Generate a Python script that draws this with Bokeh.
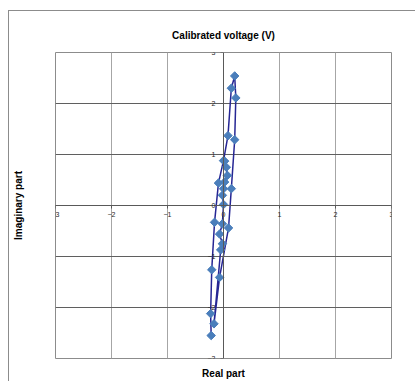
from bokeh.plotting import figure
from bokeh.models import LinearAxis, FixedTicker, Range1d
from bokeh.embed import file_html
from bokeh.resources import INLINE

# Data (Real part, Imaginary part), in drawing order
real_part = [-0.22, -0.23, -0.21, -0.16, -0.09, 0.00, 0.08, 0.14, 0.20,
             0.22, 0.20, 0.14, 0.09, -0.07, -0.17,
             -0.05, -0.02, -0.07, -0.02, 0.00, -0.02, 0.00, 0.02, 0.07, 0.05, 0.02]
imag_part = [-2.55, -2.12, -1.26, -0.33, 0.44, 0.88, 1.37, 2.30, 2.54,
             2.11, 1.29, 0.33, -0.44, -1.41, -2.32,
             -0.87, -0.75, -0.56, -0.36, 0.02, 0.20, 0.33, 0.46, 0.59, 0.75, 0.87]
tick_values = [-3, -2, -1, 0, 1, 2, 3]

FONT = "Liberation Sans"

p = figure(width=407, height=371, x_range=Range1d(-3, 3), y_range=Range1d(-3, 3),
           output_backend="svg", toolbar_location=None,
           min_border_left=46, min_border_right=25, min_border_top=41, min_border_bottom=24)
p.margin = (10, 0, 0, 8)
p.styles = {"border-left": "1px solid #8c8c8c", "border-top": "1px solid #8c8c8c"}

p.background_fill_color = "white"
p.border_fill_color = "white"
p.outline_line_color = "#8c8c8c"

# Title
p.title.text = "Calibrated voltage (V)"
p.title.align = "center"
p.title.text_font = FONT
p.title.text_font_style = "bold"
p.title.text_font_size = "10px"
p.title.text_color = "black"
p.title.offset = -13
p.title.standoff = 24

# Side axes carry only the axis titles
for ax, lab, so in ((p.xaxis[0], "Real part", 9), (p.yaxis[0], "Imaginary part", 32)):
    ax.ticker = FixedTicker(ticks=[])
    ax.axis_line_color = None
    ax.major_tick_line_color = None
    ax.minor_tick_line_color = None
    ax.major_label_text_font_size = "0px"
    ax.axis_label = lab
    ax.axis_label_text_font = FONT
    ax.axis_label_text_font_style = "bold"
    ax.axis_label_text_font_size = "10px"
    ax.axis_label_text_color = "black"
    ax.axis_label_standoff = so

# Grid
p.xgrid.ticker = FixedTicker(ticks=tick_values)
p.ygrid.ticker = FixedTicker(ticks=tick_values)
p.xgrid.grid_line_color = "#a6a6a6"
p.ygrid.grid_line_color = "#5f5f5f"

# Central axes crossing at 0
xc = LinearAxis(fixed_location=0, ticker=FixedTicker(ticks=tick_values))
yc = LinearAxis(fixed_location=0, ticker=FixedTicker(ticks=tick_values))
for ax, so in ((xc, 3), (yc, 5)):
    ax.axis_line_color = "#595959"
    ax.major_tick_line_color = "#595959"
    ax.major_tick_in = 0
    ax.major_tick_out = 3
    ax.minor_tick_line_color = None
    ax.major_label_text_font = FONT
    ax.major_label_text_font_size = "7px"
    ax.major_label_text_color = "#262626"
    ax.major_label_standoff = so
p.add_layout(xc, "below")
p.add_layout(yc, "left")

p.line(real_part, imag_part, line_color="#262694", line_width=1.5)
p.scatter(real_part, imag_part, marker="square", angle=0.785398, size=6,
          fill_color="#4a7ebb", line_color="#4a7ebb")

open("out.html", "w").write(file_html(p, INLINE))
